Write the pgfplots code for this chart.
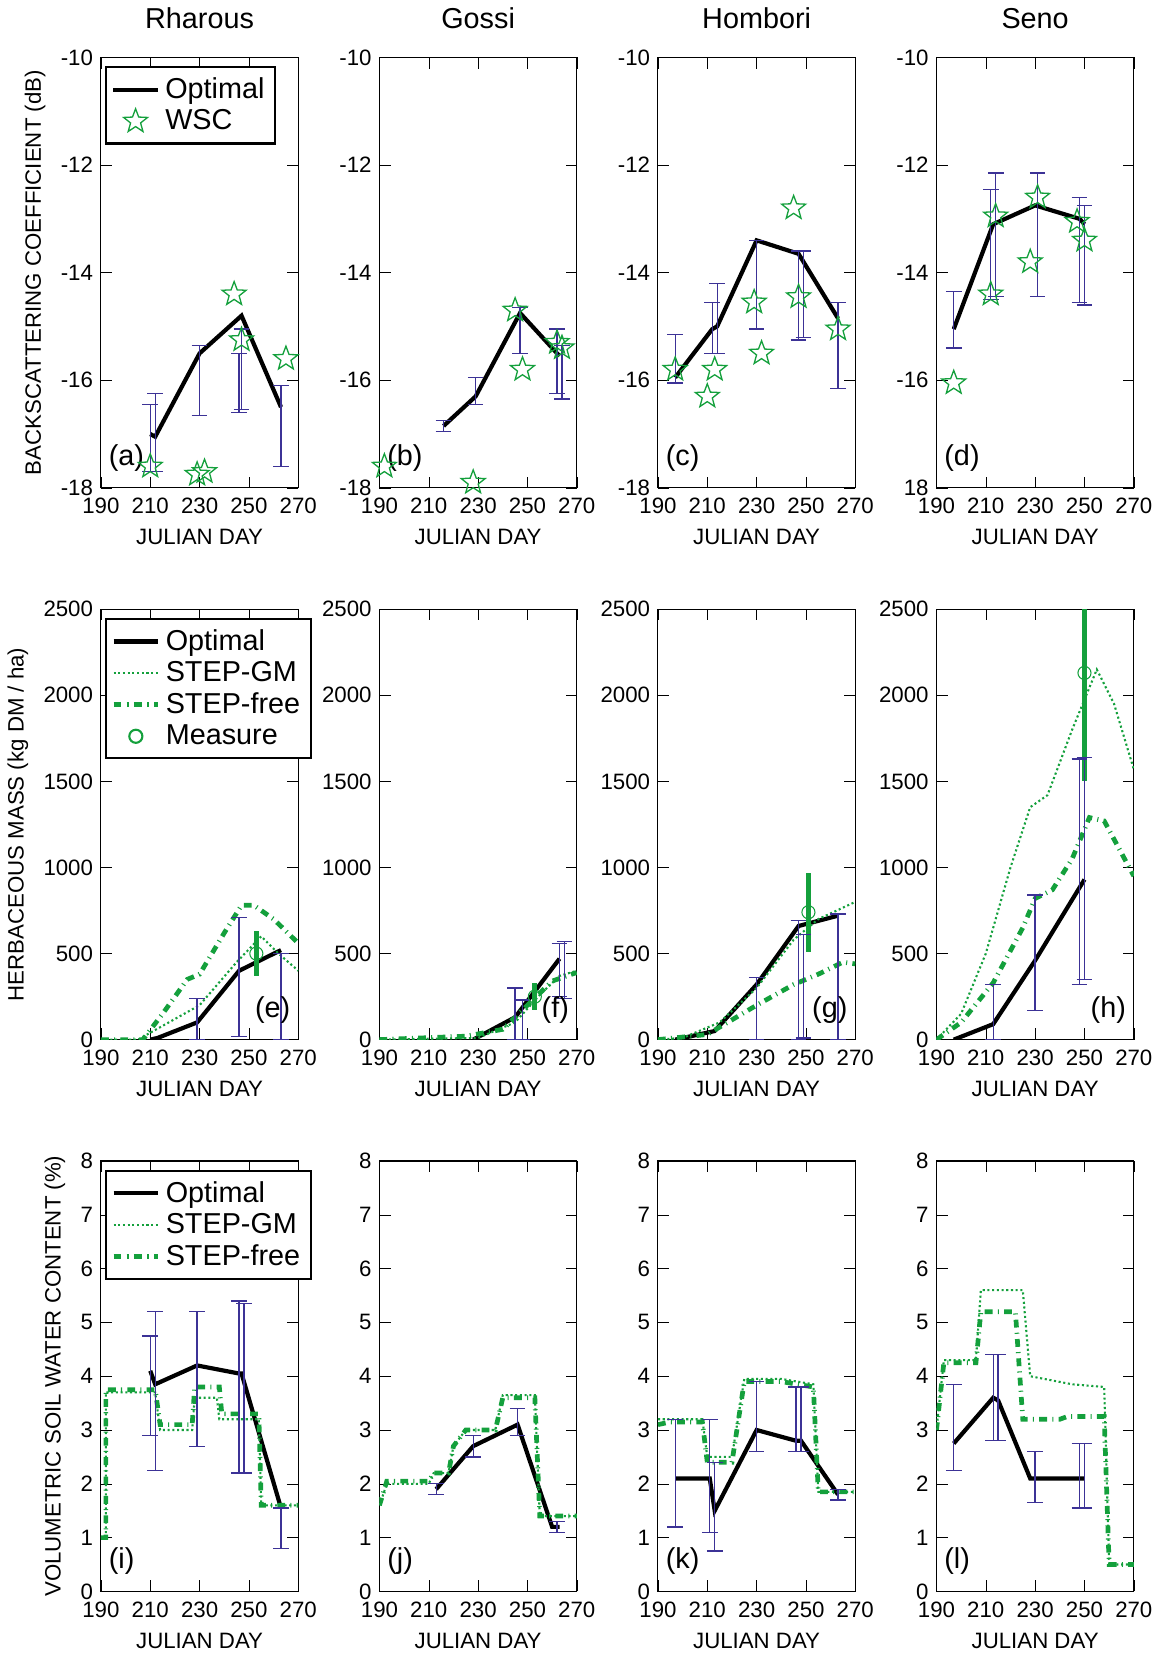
\documentclass[border=0pt]{standalone}
\usepackage{pgfplots}
\pgfplotsset{compat=1.18}
\usepgfplotslibrary{groupplots}
\usepackage{fontspec}
\setmainfont{Liberation Sans}
\definecolor{gr}{RGB}{20,160,60}
\definecolor{ebc}{RGB}{60,50,150}
\tikzset{pl/.style={font=\fontsize{11}{13}\selectfont}}
\pgfdeclareplotmark{ostar}{%
 \pgfpathmoveto{\pgfpointpolar{90}{\pgfplotmarksize}}%
 \pgfpathlineto{\pgfpointpolar{126}{0.42\pgfplotmarksize}}%
 \pgfpathlineto{\pgfpointpolar{162}{\pgfplotmarksize}}%
 \pgfpathlineto{\pgfpointpolar{198}{0.42\pgfplotmarksize}}%
 \pgfpathlineto{\pgfpointpolar{234}{\pgfplotmarksize}}%
 \pgfpathlineto{\pgfpointpolar{270}{0.42\pgfplotmarksize}}%
 \pgfpathlineto{\pgfpointpolar{306}{\pgfplotmarksize}}%
 \pgfpathlineto{\pgfpointpolar{342}{0.42\pgfplotmarksize}}%
 \pgfpathlineto{\pgfpointpolar{18}{\pgfplotmarksize}}%
 \pgfpathlineto{\pgfpointpolar{54}{0.42\pgfplotmarksize}}%
 \pgfpathclose\pgfusepathqstroke}
\pgfplotsset{
 eb/.style={draw=none,mark=none,forget plot,error bars/.cd,y dir=both,y explicit,
   error bar style={color=ebc,line width=0.5pt},error mark options={rotate=90,mark size=3pt,color=ebc,line width=0.5pt}},
 opt/.style={black,line width=1.6pt,mark=none},
 gm/.style={gr,densely dotted,line width=0.8pt,mark=none},
 fr/.style={gr,dash dot,line width=1.8pt,mark=none},
 ws/.style={only marks,mark=ostar,mark size=4.8pt,gr,mark options={line width=0.5pt}},
 meas/.style={gr,only marks,mark=o,mark size=2.5pt,error bars/.cd,y dir=both,y explicit,error bar style={gr,line width=1.8pt},error mark=none},
}
\begin{document}
\fontsize{8.5}{10}\selectfont
\begin{tikzpicture}
\begin{groupplot}[group style={group size=4 by 3,horizontal sep=1.09cm,vertical sep=1.63cm},
 width=2.65cm,height=5.78cm,scale only axis,xmin=190,xmax=270,xtick={190,210,230,250,270},
 xlabel={JULIAN DAY},tick style={black},tick align=inside,
 /pgf/number format/assume math mode=true,/pgf/number format/1000 sep={},
 xticklabel style={yshift=-1pt},
 ticklabel style={font=\fontsize{8.5}{10}\selectfont},label style={font=\fontsize{8.5}{10}\selectfont},
 title style={font=\fontsize{11}{13}\selectfont,yshift=2pt},
 legend style={font=\fontsize{11}{13}\selectfont,draw=black,line width=0.8pt,at={(0.02,0.98)},anchor=north west,row sep=-1pt,inner sep=2pt},
 legend cell align=left]
% row 1
\nextgroupplot[ymin=-18,ymax=-10,ytick={-18,-16,-14,-12,-10},title={Rharous},ylabel={BACKSCATTERING COEFFICIENT (dB)}]
\addplot[opt] coordinates {(210,-17.0)(212,-17.05)(230,-15.5)(247,-14.8)(263,-16.5)};
\addplot[ws] coordinates {(210,-17.6)(229,-17.75)(232,-17.7)(244,-14.4)(247,-15.25)(265,-15.6)};
\legend{Optimal,WSC}
\addplot[eb] coordinates {(210,-17.7)+=(0,1.25)-=(0,0) (212,-17.7)+=(0,1.45)-=(0,0) (230,-16.65)+=(0,1.3)-=(0,0) (247,-16.55)+=(0,1.5)-=(0,0) (246,-16.6)+=(0,1.1)-=(0,0) (263,-17.6)+=(0,1.5)-=(0,0)};
\node[pl,anchor=south west] at (rel axis cs:0,0.02) {(a)};
\nextgroupplot[ymin=-18,ymax=-10,ytick={-18,-16,-14,-12,-10},title={Gossi}]
\addplot[opt] coordinates {(216,-16.85)(229,-16.3)(247,-14.75)(263,-15.55)};
\addplot[ws] coordinates {(192,-17.6)(228,-17.9)(245,-14.7)(248,-15.8)(262,-15.3)(264,-15.4)};
\addplot[eb] coordinates {(216,-16.95)+=(0,0.2)-=(0,0) (229,-16.45)+=(0,0.5)-=(0,0) (247,-15.5)+=(0,0.85)-=(0,0) (262,-16.25)+=(0,1.2)-=(0,0) (264,-16.35)+=(0,1.0)-=(0,0)};
\node[pl,anchor=south west] at (rel axis cs:0,0.02) {(b)};
\nextgroupplot[ymin=-18,ymax=-10,ytick={-18,-16,-14,-12,-10},title={Hombori}]
\addplot[opt] coordinates {(197,-15.95)(212,-15.05)(214,-15.0)(230,-13.4)(247,-13.65)(263,-14.85)};
\addplot[ws] coordinates {(197,-15.8)(210,-16.3)(213,-15.8)(229,-14.55)(232,-15.5)(245,-12.8)(247,-14.45)(263,-15.05)};
\addplot[eb] coordinates {(197,-16.05)+=(0,0.9)-=(0,0) (212,-15.5)+=(0,0.95)-=(0,0) (214,-15.5)+=(0,1.3)-=(0,0) (230,-15.05)+=(0,1.65)-=(0,0) (247,-15.25)+=(0,1.65)-=(0,0) (249,-15.2)+=(0,1.6)-=(0,0) (263,-16.15)+=(0,1.6)-=(0,0)};
\node[pl,anchor=south west] at (rel axis cs:0,0.02) {(c)};
\nextgroupplot[ymin=-18,ymax=-10,ytick={-18,-16,-14,-12,-10},yticklabels={18,-16,-14,-12,-10},title={Seno}]
\addplot[opt] coordinates {(197,-15.05)(213,-13.1)(230,-12.75)(248,-13.0)(250,-13.1)};
\addplot[ws] coordinates {(197,-16.05)(212,-14.4)(214,-12.95)(228,-13.8)(231,-12.6)(247,-13.05)(250,-13.4)};
\addplot[eb] coordinates {(197,-15.4)+=(0,1.05)-=(0,0) (212,-14.5)+=(0,2.05)-=(0,0) (214,-14.45)+=(0,2.3)-=(0,0) (231,-14.45)+=(0,2.3)-=(0,0) (248,-14.55)+=(0,1.95)-=(0,0) (250,-14.6)+=(0,1.85)-=(0,0)};
\node[pl,anchor=south west] at (rel axis cs:0,0.02) {(d)};
% row 2
\nextgroupplot[ymin=0,ymax=2500,ytick={0,500,1000,1500,2000,2500},ylabel={HERBACEOUS MASS (kg DM / ha)}]
\addplot[opt] coordinates {(210,0)(213,10)(229,100)(246,400)(263,520)};
\addplot[gm] coordinates {(190,0)(205,0)(215,80)(230,200)(245,450)(255,600)(262,500)(270,400)};
\addplot[fr] coordinates {(190,0)(207,0)(215,150)(225,350)(230,380)(240,620)(247,780)(252,780)(260,700)(270,560)};
\addplot[meas] coordinates {(253,500)+-(0,130)};
\legend{Optimal,STEP-GM,STEP-free,Measure}
\addplot[eb] coordinates {(229,0)+=(0,240)-=(0,0) (246,20)+=(0,690)-=(0,0) (263,0)+=(0,500)-=(0,0)};
\node[pl,anchor=south east] at (rel axis cs:1,0.02) {(e)};
\nextgroupplot[ymin=0,ymax=2500,ytick={0,500,1000,1500,2000,2500}]
\addplot[opt] coordinates {(228,0)(245,130)(263,470)};
\addplot[gm] coordinates {(190,0)(230,10)(245,100)(255,260)(263,370)(270,400)};
\addplot[fr] coordinates {(190,0)(225,20)(240,60)(250,200)(260,340)(270,390)};
\addplot[meas] coordinates {(253,250)+-(0,80)};
\addplot[eb] coordinates {(245,0)+=(0,300)-=(0,0) (248,0)+=(0,230)-=(0,0) (263,250)+=(0,310)-=(0,0) (265,240)+=(0,330)-=(0,0)};
\node[pl,anchor=south east] at (rel axis cs:1,0.02) {(f)};
\nextgroupplot[ymin=0,ymax=2500,ytick={0,500,1000,1500,2000,2500}]
\addplot[opt] coordinates {(197,0)(213,50)(230,320)(247,660)(263,720)};
\addplot[gm] coordinates {(190,0)(200,10)(215,100)(230,300)(245,580)(255,700)(270,800)};
\addplot[fr] coordinates {(190,0)(210,30)(230,200)(245,320)(255,380)(265,450)(270,440)};
\addplot[meas] coordinates {(251,740)+-(0,230)};
\addplot[eb] coordinates {(230,0)+=(0,360)-=(0,0) (247,0)+=(0,690)-=(0,0) (249,10)+=(0,600)-=(0,0) (263,0)+=(0,730)-=(0,0)};
\node[pl,anchor=south east] at (rel axis cs:1,0.02) {(g)};
\nextgroupplot[ymin=0,ymax=2500,ytick={0,500,1000,1500,2000,2500}]
\addplot[opt] coordinates {(197,0)(213,90)(230,460)(250,930)};
\addplot[gm] coordinates {(190,0)(200,150)(210,500)(220,1000)(228,1350)(235,1420)(245,1800)(255,2150)(262,1950)(270,1570)};
\addplot[fr] coordinates {(190,0)(200,100)(213,330)(225,650)(230,820)(237,870)(245,1050)(252,1290)(258,1270)(270,950)};
\addplot[meas] coordinates {(250,2130)+-(0,630)};
\addplot[eb] coordinates {(213,0)+=(0,320)-=(0,0) (230,170)+=(0,670)-=(0,0) (248,320)+=(0,1310)-=(0,0) (250,350)+=(0,1290)-=(0,0)};
\node[pl,anchor=south east] at (rel axis cs:1,0.02) {(h)};
% row 3
\nextgroupplot[ymin=0,ymax=8,ytick={0,...,8},ylabel={VOLUMETRIC SOIL WATER CONTENT (\%)}]
\addplot[opt] coordinates {(210,4.1)(212,3.85)(229,4.2)(246,4.05)(247,4.05)(263,1.55)};
\addplot[gm] coordinates {(190,1)(192,1)(192,3.7)(212,3.7)(214,3.0)(227,3.0)(228,3.6)(237,3.6)(238,3.2)(254,3.2)(255,1.6)(270,1.6)};
\addplot[fr] coordinates {(190,1)(192,1)(192,3.75)(212,3.75)(214,3.1)(227,3.1)(228,3.8)(238,3.8)(239,3.3)(254,3.3)(255,1.6)(270,1.6)};
\legend{Optimal,STEP-GM,STEP-free}
\addplot[eb] coordinates {(210,2.9)+=(0,1.85)-=(0,0) (212,2.25)+=(0,2.95)-=(0,0) (229,2.7)+=(0,2.5)-=(0,0) (246,2.2)+=(0,3.2)-=(0,0) (248,2.2)+=(0,3.15)-=(0,0) (263,0.8)+=(0,0.75)-=(0,0)};
\node[pl,anchor=south west] at (rel axis cs:0,0.02) {(i)};
\nextgroupplot[ymin=0,ymax=8,ytick={0,...,8}]
\addplot[opt] coordinates {(213,1.9)(228,2.7)(246,3.1)(260,1.2)(263,1.2)};
\addplot[gm] coordinates {(190,1.6)(193,2.0)(210,2.0)(212,2.2)(218,2.2)(220,2.7)(225,3.0)(237,3.0)(240,3.65)(253,3.65)(255,1.4)(270,1.4)};
\addplot[fr] coordinates {(190,1.6)(193,2.05)(210,2.05)(212,2.2)(218,2.2)(220,2.7)(225,3.0)(237,3.0)(240,3.6)(253,3.6)(255,1.4)(270,1.4)};
\addplot[eb] coordinates {(213,1.8)+=(0,0.2)-=(0,0) (228,2.5)+=(0,0.4)-=(0,0) (246,2.9)+=(0,0.5)-=(0,0) (262,1.1)+=(0,0.2)-=(0,0)};
\node[pl,anchor=south west] at (rel axis cs:0,0.02) {(j)};
\nextgroupplot[ymin=0,ymax=8,ytick={0,...,8}]
\addplot[opt] coordinates {(197,2.1)(211,2.1)(213,1.5)(230,3.0)(246,2.8)(248,2.8)(263,1.8)};
\addplot[gm] coordinates {(190,3.2)(208,3.2)(210,2.5)(220,2.5)(225,3.95)(240,3.95)(253,3.85)(255,1.85)(270,1.85)};
\addplot[fr] coordinates {(190,3.1)(195,3.15)(208,3.15)(210,2.4)(220,2.4)(225,3.9)(240,3.9)(253,3.8)(255,1.85)(270,1.85)};
\addplot[eb] coordinates {(197,1.2)+=(0,2.0)-=(0,0) (211,1.1)+=(0,2.1)-=(0,0) (213,0.75)+=(0,1.65)-=(0,0) (230,2.6)+=(0,1.3)-=(0,0) (246,2.6)+=(0,1.2)-=(0,0) (248,2.6)+=(0,1.2)-=(0,0) (263,1.7)+=(0,0.2)-=(0,0)};
\node[pl,anchor=south west] at (rel axis cs:0,0.02) {(k)};
\nextgroupplot[ymin=0,ymax=8,ytick={0,...,8}]
\addplot[opt] coordinates {(197,2.75)(213,3.6)(215,3.55)(228,2.1)(248,2.1)(250,2.1)};
\addplot[gm] coordinates {(190,3.0)(193,4.3)(206,4.3)(208,5.6)(225,5.6)(228,4.0)(245,3.85)(258,3.8)(260,0.5)(270,0.5)};
\addplot[fr] coordinates {(190,3.0)(193,4.25)(206,4.25)(208,5.2)(222,5.2)(225,3.2)(240,3.2)(243,3.25)(258,3.25)(260,0.5)(270,0.5)};
\addplot[eb] coordinates {(197,2.25)+=(0,1.6)-=(0,0) (213,2.8)+=(0,1.6)-=(0,0) (215,2.8)+=(0,1.6)-=(0,0) (230,1.65)+=(0,0.95)-=(0,0) (248,1.55)+=(0,1.2)-=(0,0) (250,1.55)+=(0,1.2)-=(0,0)};
\node[pl,anchor=south west] at (rel axis cs:0,0.02) {(l)};
\end{groupplot}
\end{tikzpicture}
\end{document}
